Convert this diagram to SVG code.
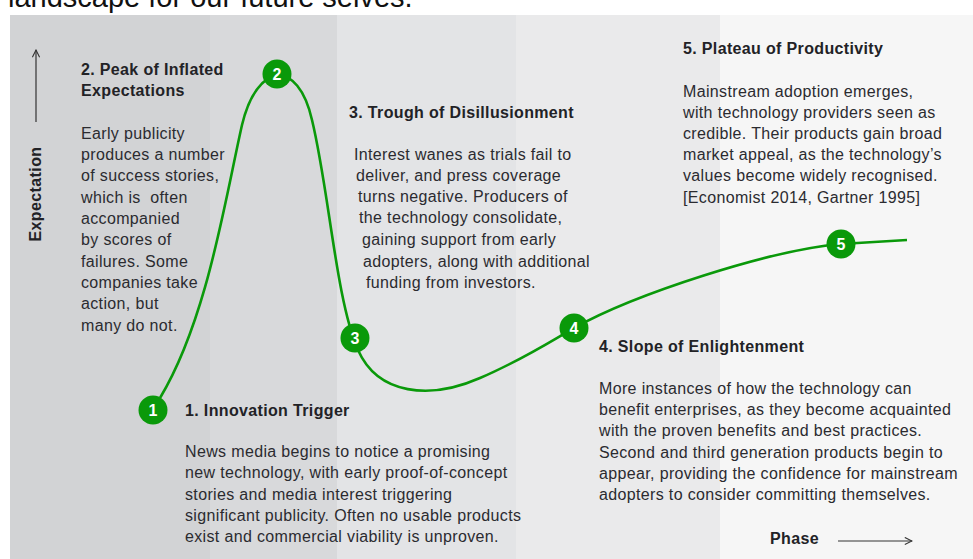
<svg xmlns="http://www.w3.org/2000/svg" width="973" height="559" viewBox="0 0 973 559">
  <defs>
    <style>
      .title { font-family: "Liberation Sans", Arial, sans-serif; font-size: 29px; fill: #111; }
      .head { font-family: "Liberation Sans", Arial, sans-serif; font-size: 16px; font-weight: bold; fill: #222226; letter-spacing: 0.35px; }
      .body { font-family: "Liberation Sans", Arial, sans-serif; font-size: 16px; fill: #2b2b30; letter-spacing: 0.35px; }
      .axis { font-family: "Liberation Sans", Arial, sans-serif; font-size: 16px; font-weight: bold; fill: #222226; letter-spacing: 0.4px; }
      .num { font-family: "Liberation Sans", Arial, sans-serif; font-size: 16px; font-weight: bold; fill: #fff; text-anchor: middle; }
      .dot { fill: #0a990a; }
      .curve { fill: none; stroke: #0a990a; stroke-width: 2.6; }
      .axisline { fill: none; stroke: #333; stroke-width: 1.2; }
      .pre { white-space: pre; }
    </style>
    <marker id="arrow" viewBox="0 0 10 10" refX="9" refY="5" markerWidth="9" markerHeight="9" markerUnits="userSpaceOnUse" orient="auto">
      <path d="M1,1 L9,5 L1,9" fill="none" stroke="#333" stroke-width="1.2"/>
    </marker>
  </defs>

  <!-- page background and heading above the chart -->
  <rect x="0" y="0" width="973" height="559" fill="#ffffff"/>
  <text class="title" x="8" y="7">landscape for our future selves.</text>

  <!-- phase bands -->
  <g id="bands">
    <rect x="10" y="15" width="200" height="544" fill="#d2d3d5"/>
    <rect x="210" y="15" width="127" height="544" fill="#d8d9db"/>
    <rect x="337" y="15" width="179" height="544" fill="#e3e4e6"/>
    <rect x="516" y="15" width="204" height="544" fill="#eaeaeb"/>
    <rect x="720" y="15" width="253" height="544" fill="#f6f6f6"/>
  </g>

  <!-- axes -->
  <g id="axes">
    <line class="axisline" x1="36" y1="122" x2="36" y2="50" marker-end="url(#arrow)"/>
    <text class="axis" transform="translate(41,194) rotate(-90)" text-anchor="middle">Expectation</text>
    <text class="axis" x="770" y="544">Phase</text>
    <line class="axisline" x1="838" y1="541" x2="912" y2="541" marker-end="url(#arrow)"/>
  </g>

  <!-- hype curve -->
  <g id="connectors">
    <path class="curve" d="M160,398 C207,320 225,200 242,125 C257,62 298,58 312,120 C329,190 336,300 358,350 C378,395 430,400 480,378 C520,361 548,343 574,328 C635,294 770,250 841,244 L907,240"/>
  </g>

  <!-- phase markers -->
  <g id="node-1">
    <circle class="dot" cx="153" cy="410" r="14.5"/>
    <text class="num" x="153" y="416">1</text>
  </g>
  <g id="node-2">
    <circle class="dot" cx="277" cy="74" r="14.5"/>
    <text class="num" x="277" y="80">2</text>
  </g>
  <g id="node-3">
    <circle class="dot" cx="355" cy="338" r="14.5"/>
    <text class="num" x="355" y="344">3</text>
  </g>
  <g id="node-4">
    <circle class="dot" cx="574" cy="328" r="14.5"/>
    <text class="num" x="574" y="334">4</text>
  </g>
  <g id="node-5">
    <circle class="dot" cx="841" cy="244" r="14.5"/>
    <text class="num" x="841" y="250">5</text>
  </g>

  <!-- phase descriptions -->
  <g id="label-1">
    <text class="head" x="185" y="416">1. Innovation Trigger</text>
    <text class="body" x="185" y="457">News media begins to notice a promising</text>
    <text class="body" x="185" y="478">new technology, with early proof-of-concept</text>
    <text class="body" x="185" y="500">stories and media interest triggering</text>
    <text class="body" x="185" y="521">significant publicity. Often no usable products</text>
    <text class="body" x="185" y="542">exist and commercial viability is unproven.</text>
  </g>

  <g id="label-2">
    <text class="head" x="81" y="75">2. Peak of Inflated</text>
    <text class="head" x="81" y="96">Expectations</text>
    <text class="body" x="81" y="139">Early publicity</text>
    <text class="body" x="81" y="160">produces a number</text>
    <text class="body" x="81" y="181">of success stories,</text>
    <text class="body pre" x="81" y="203">which is  often</text>
    <text class="body" x="81" y="224">accompanied</text>
    <text class="body" x="81" y="245">by scores of</text>
    <text class="body" x="81" y="267">failures. Some</text>
    <text class="body" x="81" y="288">companies take</text>
    <text class="body" x="81" y="309">action, but</text>
    <text class="body" x="81" y="331">many do not.</text>
  </g>

  <g id="label-3">
    <text class="head" x="349" y="118">3. Trough of Disillusionment</text>
    <text class="body" x="354" y="160">Interest wanes as trials fail to</text>
    <text class="body" x="356" y="181">deliver, and press coverage</text>
    <text class="body" x="358" y="202">turns negative. Producers of</text>
    <text class="body" x="359" y="223">the technology consolidate,</text>
    <text class="body" x="362" y="245">gaining support from early</text>
    <text class="body" x="363" y="267">adopters, along with additional</text>
    <text class="body" x="366" y="288">funding from investors.</text>
  </g>

  <g id="label-4">
    <text class="head" x="599" y="352">4. Slope of Enlightenment</text>
    <text class="body" x="599" y="394">More instances of how the technology can</text>
    <text class="body" x="599" y="415">benefit enterprises, as they become acquainted</text>
    <text class="body" x="599" y="436">with the proven benefits and best practices.</text>
    <text class="body" x="599" y="458">Second and third generation products begin to</text>
    <text class="body" x="599" y="479">appear, providing the confidence for mainstream</text>
    <text class="body" x="599" y="500">adopters to consider committing themselves.</text>
  </g>

  <g id="label-5">
    <text class="head" x="683" y="54">5. Plateau of Productivity</text>
    <text class="body" x="683" y="97">Mainstream adoption emerges,</text>
    <text class="body" x="683" y="118">with technology providers seen as</text>
    <text class="body" x="683" y="139">credible. Their products gain broad</text>
    <text class="body" x="683" y="160">market appeal, as the technology’s</text>
    <text class="body" x="683" y="181">values become widely recognised.</text>
    <text class="body" x="683" y="203">[Economist 2014, Gartner 1995]</text>
  </g>
</svg>
